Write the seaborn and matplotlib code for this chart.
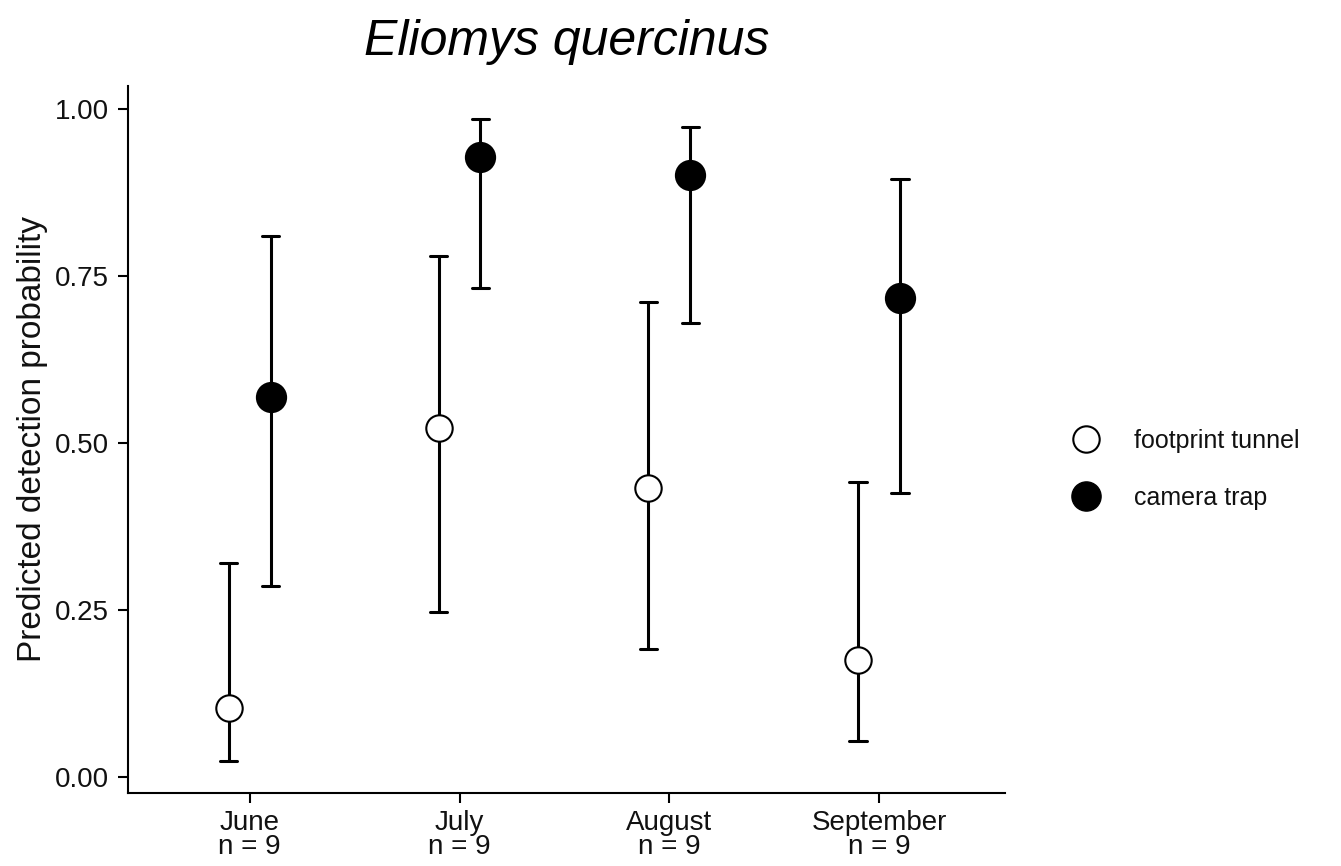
import numpy as np
import pandas as pd
import matplotlib
matplotlib.use("Agg")
import matplotlib.pyplot as plt
import seaborn as sns
from matplotlib.lines import Line2D

# -------------------- DATA --------------------
months = ["June\nn = 9", "July\nn = 9", "August\nn = 9", "September\nn = 9"]
methods = ["footprint tunnel", "camera trap"]

tunnel_est = [0.103, 0.522, 0.432, 0.175]
tunnel_low = [0.024, 0.247, 0.191, 0.054]
tunnel_high = [0.320, 0.780, 0.711, 0.441]

camera_est = [0.568, 0.927, 0.901, 0.716]
camera_low = [0.286, 0.732, 0.679, 0.425]
camera_high = [0.809, 0.984, 0.972, 0.895]

# long table: low / estimate / high per group -> median = estimate, 100% interval = CI
rows = []
for method, est, lo, hi in [("footprint tunnel", tunnel_est, tunnel_low, tunnel_high),
                            ("camera trap", camera_est, camera_low, camera_high)]:
    for m, e, l, h in zip(months, est, lo, hi):
        for v in (l, e, h):
            rows.append({"month": m, "method": method, "p": v})
df = pd.DataFrame(rows)

# -------------------- PLOT --------------------
sns.set_style("white")
plt.rcParams['font.family'] = ['Liberation Sans', 'DejaVu Sans']
TXT = "#111111"

fig = plt.figure(figsize=(13.41, 8.66), dpi=100)
ax = fig.add_axes([0.0955, 0.0843, 0.6539, 0.8164])

MS = 21
sns.pointplot(data=df, x="month", y="p", hue="method", order=months, hue_order=methods,
              estimator=np.median, errorbar=("pi", 100), dodge=0.2,
              palette={"footprint tunnel": "black", "camera trap": "black"},
              markers=["o", "o"], linestyles="none", capsize=0.082,
              err_kws={"linewidth": 2.2}, markersize=MS, ax=ax, legend=False)

# hollow markers for footprint tunnel
marker_lines = [ln for ln in ax.lines if ln.get_marker() == "o"]
for ln in marker_lines:
    ln.set_zorder(5)
    ln.set_markeredgewidth(1.5)
if marker_lines:
    marker_lines[0].set_markerfacecolor("white")
    marker_lines[0].set_markersize(MS - 2)

ax.set_xlim(-0.58, 3.6)
ax.set_ylim(-0.024, 1.034)
ax.set_yticks([0, 0.25, 0.5, 0.75, 1.0])
ax.set_yticklabels(["0.00", "0.25", "0.50", "0.75", "1.00"])
ax.set_xlabel("")
ax.set_ylabel("Predicted detection probability", fontsize=24, labelpad=5, color=TXT)
ax.set_title("Eliomys quercinus", fontsize=36, fontstyle="italic", pad=22, color="black")

for s in ["top", "right"]:
    ax.spines[s].set_visible(False)
for s in ["left", "bottom"]:
    ax.spines[s].set_color("black")
    ax.spines[s].set_linewidth(1.5)
ax.tick_params(axis="y", direction="out", length=7, width=1.5, pad=7,
               color="black", labelsize=20, labelcolor=TXT, left=True)
ax.tick_params(axis="x", direction="out", length=7, width=1.5, pad=5,
               color="black", labelsize=20, labelcolor=TXT, bottom=True)
for lab in ax.get_xticklabels():
    lab.set_linespacing(0.9)

handles = [Line2D([], [], marker="o", linestyle="none", markersize=MS - 2,
                  markerfacecolor="white", markeredgecolor="black", markeredgewidth=1.5),
           Line2D([], [], marker="o", linestyle="none", markersize=MS,
                  markerfacecolor="black", markeredgecolor="black")]
leg = fig.legend(handles, methods, loc="center left", bbox_to_anchor=(0.784, 0.458),
                 frameon=False, fontsize=18, handlelength=1.0, handletextpad=1.4,
                 labelspacing=1.3)
for t in leg.get_texts():
    t.set_color(TXT)

fig.savefig("out.png", dpi=100)
